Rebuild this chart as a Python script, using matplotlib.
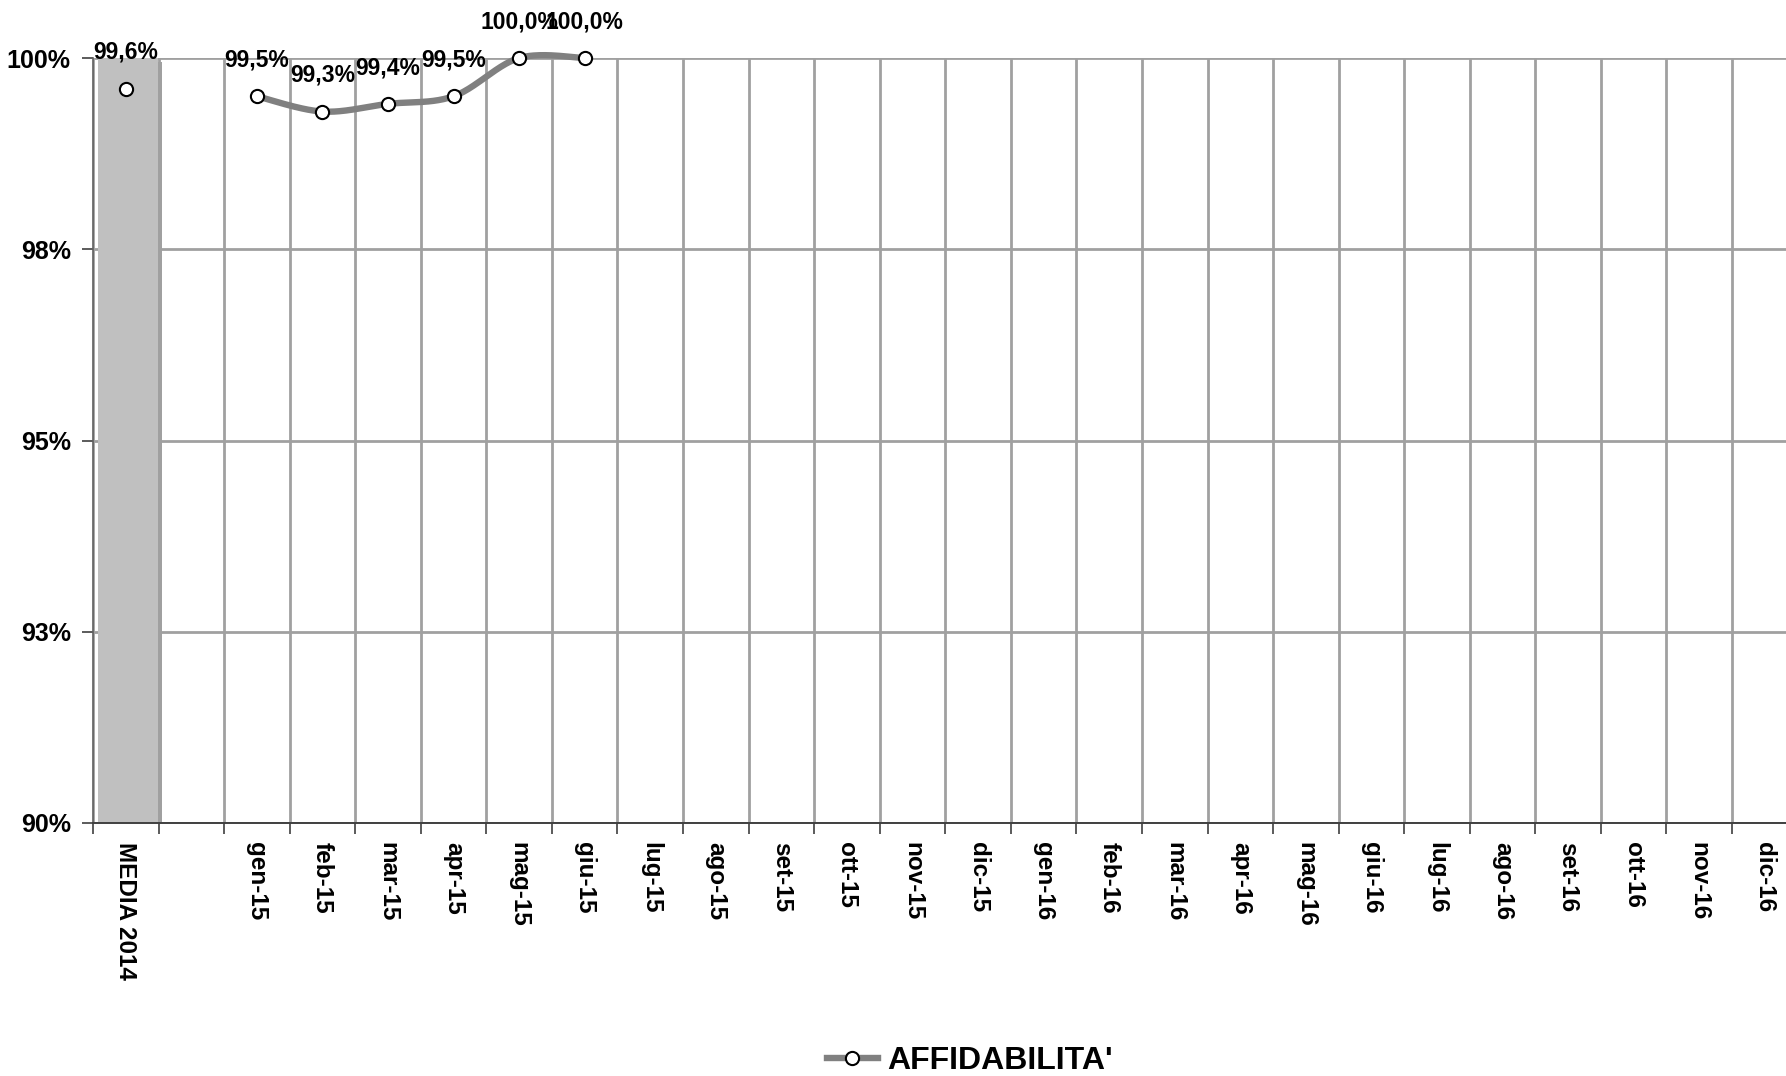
import numpy as np
import matplotlib
matplotlib.use("Agg")
import matplotlib.pyplot as plt
from matplotlib import patheffects as pe
from matplotlib.lines import Line2D

plt.rcParams['font.family'] = ['Liberation Sans', 'DejaVu Sans']

# ---- data ----
months = ["gen", "feb", "mar", "apr", "mag", "giu", "lug", "ago", "set", "ott", "nov", "dic"]
categories = ["MEDIA 2014", ""] + [f"{m}-15" for m in months] + [f"{m}-16" for m in months]
media_value = 99.6
bar_value = 100.0
monthly_values = [99.5, 99.3, 99.4, 99.5, 100.0, 100.0]
monthly_labels = ["99,5%", "99,3%", "99,4%", "99,5%", "100,0%", "100,0%"]
media_label = "99,6%"
yticks = [90, 92.5, 95, 97.5, 100]
ytick_labels = ["90%", "93%", "95%", "98%", "100%"]
series_name = "AFFIDABILITA'"

W, H = 1786, 1076
fig = plt.figure(figsize=(W / 100, H / 100), dpi=100)
ax = fig.add_axes([93 / W, 1 - 823 / H, 26 * 65.56 / W, (823 - 58) / H])
ax.set_xlim(-0.5, len(categories) - 0.5)
ax.set_ylim(90, 100)

# grid
grid_c = "#a0a0a0"
ax.set_yticks(yticks)
ax.set_yticklabels(ytick_labels, fontsize=18, fontweight="bold")
ax.set_xticks(np.arange(len(categories)))
ax.set_xticklabels(categories, rotation=270, fontsize=17.5, fontweight="bold",
                   va="top", ha="center")
ax.set_xticks(np.arange(len(categories) + 1) - 0.5, minor=True)
ax.tick_params(axis="x", which="major", length=0, pad=14)
ax.tick_params(axis="x", which="minor", length=8, width=1.2, color="#404040")
ax.tick_params(axis="y", which="major", length=8, width=1.2, color="#404040", pad=8)
ax.grid(True, axis="y", which="major", color=grid_c, lw=2)
ax.grid(True, axis="x", which="minor", color=grid_c, lw=2)
ax.set_axisbelow(True)
for s in ["top", "right"]:
    ax.spines[s].set_visible(False)
ax.spines["left"].set_color("#606060")
ax.spines["left"].set_linewidth(1.2)
ax.spines["bottom"].set_color("#404040")
ax.spines["bottom"].set_linewidth(1.4)

# bar for MEDIA 2014
ax.bar([0.03], [bar_value - 90], bottom=90, width=0.91, color="#c0c0c0", zorder=1.5,
       path_effects=[pe.SimplePatchShadow(offset=(3, -3), shadow_rgbFace="#a0a0a0", alpha=1.0),
                     pe.Normal()])

# smoothed line (Bezier smoothing like the spreadsheet's)
xs = np.arange(2, 2 + len(monthly_values), dtype=float)
ys = np.array(monthly_values, dtype=float)
px = np.concatenate([[xs[0]], xs, [xs[-1]]])
py = np.concatenate([[ys[0]], ys, [ys[-1]]])
cx, cy = [], []
t = np.linspace(0, 1, 40)
for i in range(1, len(px) - 2):
    p0 = np.array([px[i], py[i]])
    p3 = np.array([px[i + 1], py[i + 1]])
    p1 = p0 + (np.array([px[i + 1], py[i + 1]]) - np.array([px[i - 1], py[i - 1]])) / 6
    p2 = p3 - (np.array([px[i + 2], py[i + 2]]) - np.array([px[i], py[i]])) / 6
    b = ((1 - t) ** 3)[:, None] * p0 + (3 * (1 - t) ** 2 * t)[:, None] * p1 + \
        (3 * (1 - t) * t ** 2)[:, None] * p2 + (t ** 3)[:, None] * p3
    cx.extend(b[:, 0]); cy.extend(b[:, 1])
ax.plot(cx, cy, color="#808080", lw=4.6, solid_capstyle="round", zorder=3, clip_on=False)
mk = dict(marker="o", ms=9.5, mfc="white", mec="black", mew=1.5, ls="none", zorder=4, clip_on=False)
ax.plot(xs, ys, **mk)
ax.plot([0], [media_value], **mk)

# data labels
for x, y, lab in zip(xs, ys, monthly_labels):
    ax.annotate(lab, (x, y), xytext=(0, 26), textcoords="offset points", ha="center", va="center",
                fontsize=16.5, fontweight="bold", annotation_clip=False)
ax.annotate(media_label, (0, media_value), xytext=(0, 26), textcoords="offset points",
            ha="center", va="center", fontsize=16.5, fontweight="bold", annotation_clip=False)

# legend
h = Line2D([], [], color="#808080", lw=4.6, marker="o", ms=9.5, mfc="white", mec="black", mew=1.5)
fig.legend([h], [series_name], loc="center", bbox_to_anchor=(970 / W, 1 - 1061 / H),
           frameon=False, prop=dict(size=23, weight="bold"), handlelength=1.6,
           handletextpad=0.3, borderpad=0)

fig.savefig("out.png", dpi=100)
